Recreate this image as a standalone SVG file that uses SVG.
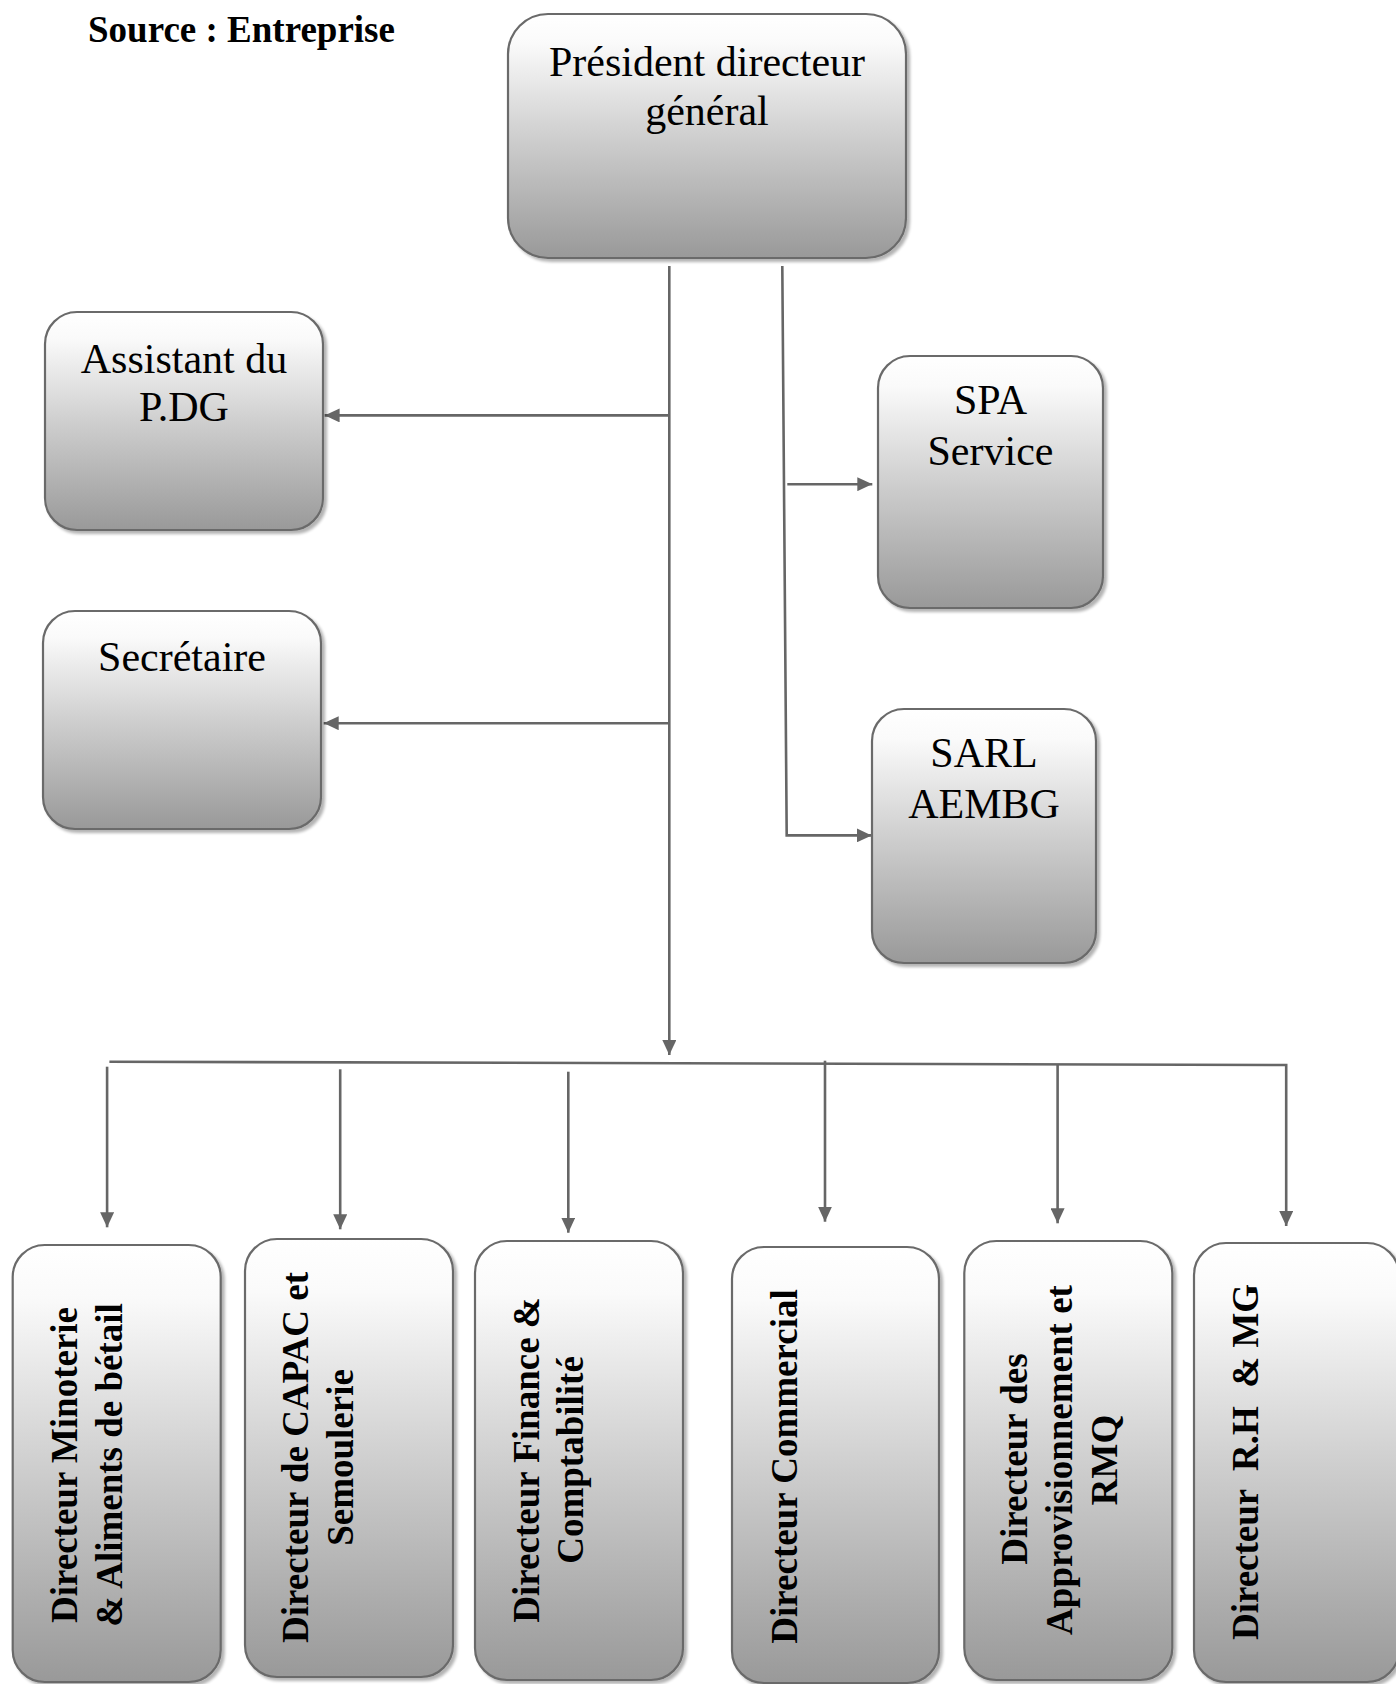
<svg xmlns="http://www.w3.org/2000/svg" width="1396" height="1684" viewBox="0 0 1396 1684">
<style>
.box{fill:url(#g);stroke:#6a6a6a;stroke-width:2.2;filter:url(#sh)}
.t{font-family:"Liberation Serif","Times New Roman",serif;font-size:42px;fill:#000;text-anchor:middle}
.b{font-family:"Liberation Serif","Times New Roman",serif;font-size:37px;font-weight:bold;fill:#000;text-anchor:middle}
.c{fill:none;stroke:#666;stroke-width:2.6}
.a{marker-end:url(#ah)}
</style>
<defs>
<linearGradient id="g" x1="0" y1="0" x2="0" y2="1">
<stop offset="0" stop-color="#ffffff"/>
<stop offset="0.12" stop-color="#fafafa"/>
<stop offset="0.5" stop-color="#cfcfcf"/>
<stop offset="1" stop-color="#999999"/>
</linearGradient>
<filter id="sh" x="-10%" y="-10%" width="125%" height="125%">
<feGaussianBlur in="SourceAlpha" stdDeviation="1.5"/>
<feOffset dx="3" dy="3" result="o"/>
<feComponentTransfer><feFuncA type="linear" slope="0.3"/></feComponentTransfer>
<feMerge><feMergeNode/><feMergeNode in="SourceGraphic"/></feMerge>
</filter>
<marker id="ah" markerWidth="15" markerHeight="14" refX="15" refY="7" orient="auto" markerUnits="userSpaceOnUse">
<path d="M0,0 L15,7 L0,14 z" fill="#666"/>
</marker>
</defs>
<rect width="1396" height="1684" fill="#fff"/>
<text x="88" y="41.7" style="font-family:'Liberation Serif','Times New Roman',serif;font-size:37px;font-weight:bold">Source : Entreprise</text>

<g id="connectors">
<path class="c a" d="M669.3,266 L669.3,1055"/>
<path class="c a" d="M669.3,415.4 L324.6,415.4"/>
<path class="c a" d="M669.3,723.2 L323.7,723.2"/>
<path class="c a" d="M782.3,266 L786.7,835.4 L871.7,835.4"/>
<path class="c a" d="M787.3,484.2 L872.3,484.2"/>
<path class="c a" d="M109.4,1061.7 L1286.2,1065 L1286.2,1226"/>
<path class="c a" d="M107.1,1066.7 L107.1,1227.3"/>
<path class="c a" d="M340.2,1069.3 L340.2,1229.3"/>
<path class="c a" d="M568.3,1071.7 L568.3,1232.7"/>
<path class="c a" d="M825,1060.7 L825,1221.7"/>
<path class="c a" d="M1057.6,1064 L1057.6,1223.3"/>
</g>

<g id="pdg">
<rect class="box" x="508" y="14" width="398" height="244" rx="40"/>
<text class="t" x="707" y="76">Président directeur</text>
<text class="t" x="707" y="125">général</text>
</g>
<g id="assistant">
<rect class="box" x="45" y="312" width="278" height="218" rx="32"/>
<text class="t" x="184" y="372.5">Assistant du</text>
<text class="t" x="184" y="420.7">P.DG</text>
</g>
<g id="secretaire">
<rect class="box" x="43" y="611" width="278" height="218" rx="32"/>
<text class="t" x="182" y="671.4">Secrétaire</text>
</g>
<g id="spa">
<rect class="box" x="878" y="356" width="225" height="252" rx="32"/>
<text class="t" x="990.5" y="414.4">SPA</text>
<text class="t" x="990.5" y="464.9">Service</text>
</g>
<g id="sarl">
<rect class="box" x="872" y="709" width="224" height="254" rx="32"/>
<text class="t" x="984" y="767.4">SARL</text>
<text class="t" x="984" y="818">AEMBG</text>
</g>

<g id="d1">
<rect class="box" x="12.7" y="1245" width="208" height="437" rx="32"/>
<text class="b" transform="translate(77.3,1465) rotate(-90)">Directeur Minoterie</text>
<text class="b" transform="translate(121.7,1465) rotate(-90)">&amp; Aliments de bétail</text>
</g>
<g id="d2">
<rect class="box" x="245" y="1239" width="208" height="438" rx="32"/>
<text class="b" transform="translate(308.3,1457.5) rotate(-90)">Directeur de CAPAC et</text>
<text class="b" transform="translate(353,1457.5) rotate(-90)">Semoulerie</text>
</g>
<g id="d3">
<rect class="box" x="475" y="1241" width="208" height="439" rx="32"/>
<text class="b" transform="translate(539,1460) rotate(-90)">Directeur Finance &amp;</text>
<text class="b" transform="translate(583.3,1460) rotate(-90)">Comptabilité</text>
</g>
<g id="d4">
<rect class="box" x="732" y="1247" width="207" height="436" rx="32"/>
<text class="b" transform="translate(796.7,1466.5) rotate(-90)">Directeur Commercial</text>
</g>
<g id="d5">
<rect class="box" x="964.3" y="1241" width="208" height="439" rx="32"/>
<text class="b" transform="translate(1027.3,1459) rotate(-90)">Directeur des</text>
<text class="b" transform="translate(1071.7,1460) rotate(-90)">Approvisionnement et</text>
<text class="b" transform="translate(1117,1460) rotate(-90)">RMQ</text>
</g>
<g id="d6">
<rect class="box" x="1194" y="1243" width="205" height="439" rx="32"/>
<text class="b" xml:space="preserve" transform="translate(1258.3,1462) rotate(-90)">Directeur  R.H  &amp; MG</text>
</g>
</svg>
